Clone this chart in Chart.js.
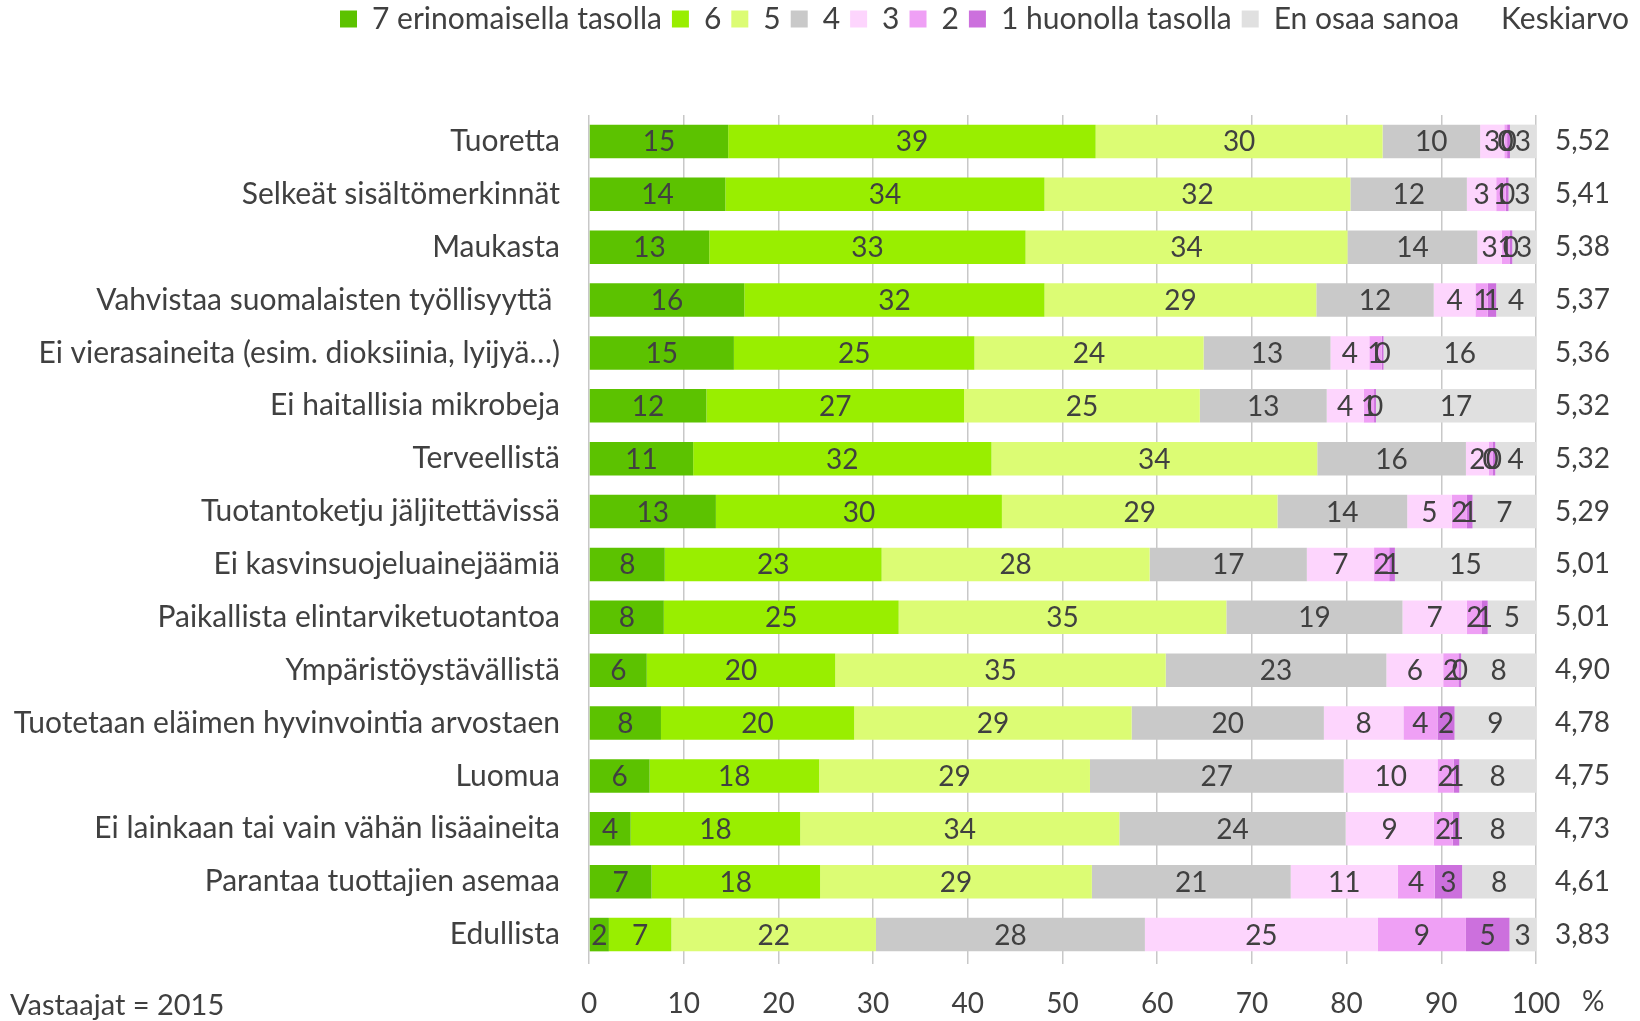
<!DOCTYPE html>
<html lang="fi">
<head>
<meta charset="utf-8">
<title>Elintarvikkeiden ominaisuudet</title>
<script src="https://cdn.jsdelivr.net/npm/chart.js@4.4.0/dist/chart.umd.min.js"></script>
<style>
  html, body { margin: 0; padding: 0; background: #fff; }
  #wrap { position: relative; width: 1640px; height: 1021px; }
</style>
</head>
<body>
<div id="wrap"><canvas id="chart"></canvas></div>
<script>
// Ominaisuudet, ylhäältä alas
const categories = [
  'Tuoretta',
  'Selkeät sisältömerkinnät',
  'Maukasta',
  'Vahvistaa suomalaisten työllisyyttä ',
  'Ei vierasaineita (esim. dioksiinia, lyijyä…)',
  'Ei haitallisia mikrobeja',
  'Terveellistä',
  'Tuotantoketju jäljitettävissä',
  'Ei kasvinsuojeluainejäämiä',
  'Paikallista elintarviketuotantoa',
  'Ympäristöystävällistä',
  'Tuotetaan eläimen hyvinvointia arvostaen',
  'Luomua',
  'Ei lainkaan tai vain vähän lisäaineita',
  'Parantaa tuottajien asemaa',
  'Edullista'
];

// Osuudet (%) vastausvaihtoehdoittain
const level7   = [14.7, 14.4, 12.7, 16.4, 15.3, 12.4, 11.0, 13.4, 8.0, 7.9, 6.1, 7.6, 6.4, 4.4, 6.6, 2.1];
const level6   = [38.8, 33.7, 33.4, 31.7, 25.4, 27.2, 31.5, 30.2, 22.9, 24.8, 19.9, 20.4, 17.9, 17.9, 17.8, 6.6];
const level5   = [30.3, 32.3, 34.0, 28.7, 24.2, 24.9, 34.4, 29.1, 28.3, 34.6, 34.9, 29.3, 28.6, 33.7, 28.7, 21.6];
const level4   = [10.3, 12.3, 13.7, 12.4, 13.4, 13.4, 15.7, 13.7, 16.6, 18.6, 23.3, 20.3, 26.8, 23.9, 21.0, 28.4];
const level3   = [2.55, 3.1, 2.6, 4.4, 4.1, 3.9, 2.4, 4.7, 7.1, 6.8, 6.0, 8.4, 9.9, 9.3, 11.3, 24.6];
const level2   = [0.3, 1.0, 0.8, 1.3, 1.3, 1.1, 0.4, 1.6, 1.6, 1.6, 1.6, 3.6, 1.7, 2.0, 3.9, 9.3];
const level1   = [0.3, 0.3, 0.3, 0.9, 0.2, 0.2, 0.3, 0.6, 0.6, 0.6, 0.3, 1.8, 0.6, 0.7, 2.9, 4.6];
const dontKnow = [2.75, 2.9, 2.5, 4.2, 16.1, 16.9, 4.3, 6.7, 14.9, 5.1, 7.9, 8.6, 8.1, 8.1, 7.8, 2.8];

// Keskiarvot oikeassa reunassa
const averages = ['5,52', '5,41', '5,38', '5,37', '5,36', '5,32', '5,32', '5,29',
                  '5,01', '5,01', '4,90', '4,78', '4,75', '4,73', '4,61', '3,83'];

const xTicks = [0, 10, 20, 30, 40, 50, 60, 70, 80, 90, 100];
const respondentNote = 'Vastaajat = 2015';
const unitLabel = '%';

const FONT = "Lato, 'Noto Sans', sans-serif";
const TEXT = '#404040';
const GRID = '#C8C8C8';

Chart.defaults.font.family = FONT;
Chart.defaults.font.size = 28;
Chart.defaults.color = TEXT;

function series(label, data, color) {
  return { label, data, backgroundColor: color, borderWidth: 0, showValues: true };
}

// Lukuarvot palkkien keskelle
const segmentLabels = {
  id: 'segmentLabels',
  afterDatasetsDraw(chart) {
    const ctx = chart.ctx;
    ctx.save();
    ctx.font = `28px ${FONT}`;
    ctx.fillStyle = TEXT;
    ctx.textAlign = 'center';
    ctx.textBaseline = 'middle';
    chart.data.datasets.forEach((ds, i) => {
      if (!ds.showValues) return;
      chart.getDatasetMeta(i).data.forEach((bar, j) => {
        ctx.fillText(String(Math.round(ds.data[j])), (bar.x + bar.base) / 2, bar.y + 1);
      });
    });
    ctx.restore();
  }
};

// Vastaajamäärä ja prosenttimerkki
const notes = {
  id: 'notes',
  afterDraw(chart) {
    const ctx = chart.ctx;
    const x = chart.scales.x;
    ctx.save();
    ctx.font = `29px ${FONT}`;
    ctx.fillStyle = TEXT;
    ctx.textAlign = 'left';
    ctx.textBaseline = 'middle';
    ctx.fillText(respondentNote, 10, 1006);
    ctx.font = `28px ${FONT}`;
    ctx.fillText(unitLabel, x.getPixelForValue(100) + 46, 1002);
    ctx.restore();
  }
};

// Tyhjää selitteen alle
const legendGap = {
  id: 'legendGap',
  beforeInit(chart) {
    const fit = chart.legend.fit;
    chart.legend.fit = function () {
      fit.call(this);
      this.height = 121;
    };
  }
};

new Chart(document.getElementById('chart'), {
  type: 'bar',
  data: {
    labels: categories,
    datasets: [
      series('7 erinomaisella tasolla', level7, '#5CC200'),
      series('6', level6, '#99EE00'),
      series('5', level5, '#DCFC74'),
      series('4', level4, '#C9C9C9'),
      series('3', level3, '#FDD5FD'),
      series('2', level2, '#EFA0F5'),
      series('1 huonolla tasolla', level1, '#CC70DD'),
      series('En osaa sanoa', dontKnow, '#E0E0E0'),
      { label: 'Keskiarvo', data: [], backgroundColor: 'rgba(0,0,0,0)', borderColor: 'rgba(0,0,0,0)', borderWidth: 0 }
    ]
  },
  options: {
    indexAxis: 'y',
    responsive: true, maintainAspectRatio: false,
    animation: false,
    layout: { padding: { top: -6, right: 1, bottom: 0, left: 0 } },
    datasets: { bar: { barPercentage: 0.635, categoryPercentage: 1 } },
    plugins: {
      legend: {
        position: 'top', align: 'end',
        onClick: () => {},
        labels: { boxWidth: 17, boxHeight: 17, padding: 10, color: TEXT, font: { size: 30 } }
      },
      tooltip: { enabled: false }
    },
    scales: {
      x: {
        stacked: true, min: 0, max: 100,
        afterBuildTicks: axis => { axis.ticks = xTicks.map(v => ({ value: v })); },
        grid: { color: GRID, lineWidth: 1.5, drawTicks: true, tickLength: 3 },
        border: { display: false },
        ticks: { padding: 23, color: TEXT },
        afterFit: axis => { axis.height = 60; }
      },
      y: {
        stacked: true,
        grid: { display: false, drawTicks: false },
        border: { display: false },
        ticks: { padding: 29, color: TEXT, autoSkip: false, font: { size: 30 } },
        afterFit: axis => { axis.width = 589; }
      },
      y2: {
        type: 'category', position: 'right', labels: averages, offset: true,
        grid: { display: false, drawTicks: false },
        border: { display: false },
        ticks: { padding: 19, color: TEXT, autoSkip: false },
        afterFit: axis => { axis.width = 103; }
      }
    }
  },
  plugins: [segmentLabels, notes, legendGap]
});
</script>
</body>
</html>
